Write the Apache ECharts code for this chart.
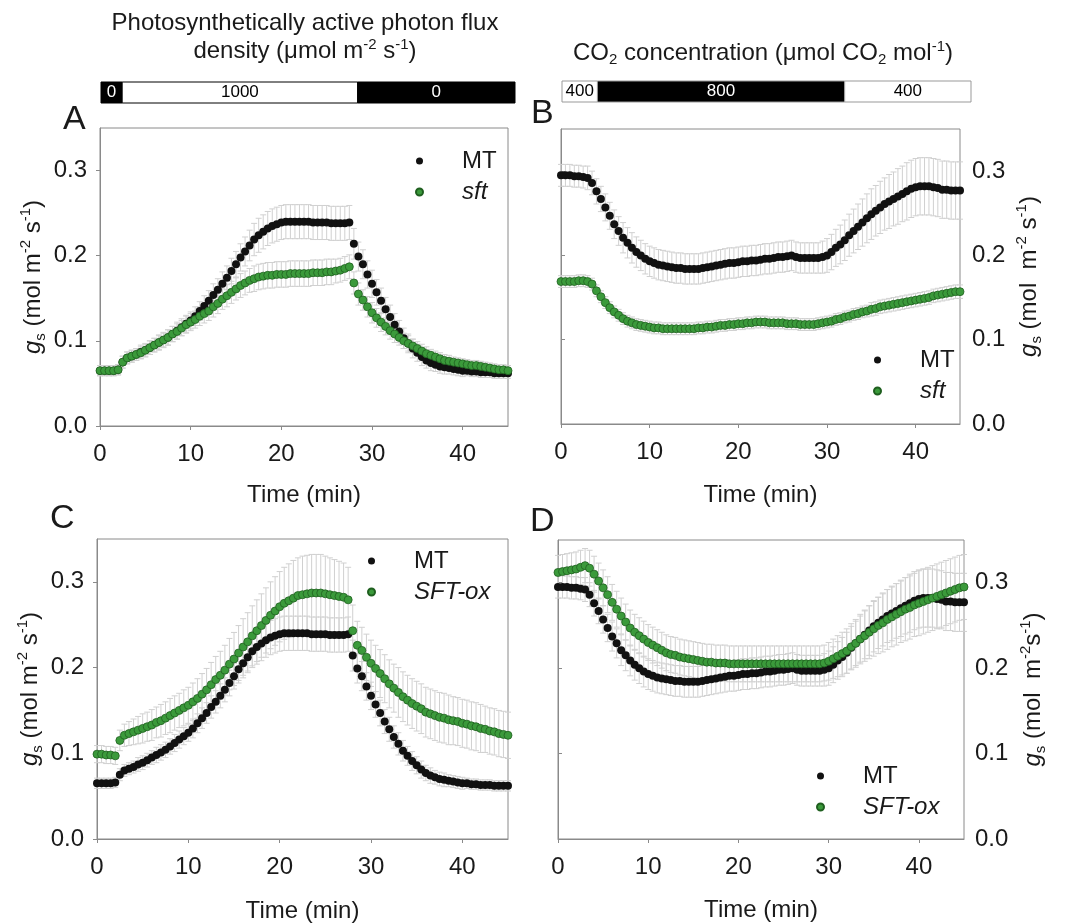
<!DOCTYPE html>
<html>
<head>
<meta charset="utf-8">
<title>gs time courses</title>
<script src="https://cdn.jsdelivr.net/npm/echarts@6/dist/echarts.min.js"></script>
<style>
  html, body { margin: 0; padding: 0; background: #fff; }
  #chart { width: 1065px; height: 924px; }
</style>
</head>
<body>
<div id="chart"></div>
<script>
// sampling times (min), one reading every 30 s
const times = [
  0, 0.5, 1, 1.5, 2, 2.5, 3, 3.5, 4, 4.5,
  5, 5.5, 6, 6.5, 7, 7.5, 8, 8.5, 9, 9.5,
  10, 10.5, 11, 11.5, 12, 12.5, 13, 13.5, 14, 14.5,
  15, 15.5, 16, 16.5, 17, 17.5, 18, 18.5, 19, 19.5,
  20, 20.5, 21, 21.5, 22, 22.5, 23, 23.5, 24, 24.5,
  25, 25.5, 26, 26.5, 27, 27.5, 28, 28.5, 29, 29.5,
  30, 30.5, 31, 31.5, 32, 32.5, 33, 33.5, 34, 34.5,
  35, 35.5, 36, 36.5, 37, 37.5, 38, 38.5, 39, 39.5,
  40, 40.5, 41, 41.5, 42, 42.5, 43, 43.5, 44, 44.5,
  45
];
const xTicks = [0, 10, 20, 30, 40];
const yTicks = [0, 0.1, 0.2, 0.3];

// light treatment bar (start, end, PPFD) and CO2 bar (start, end, ppm)
const lightSteps = [[0, 2.3, 0], [2.3, 27.9, 1000], [27.9, 45, 0]];
const co2Steps = [[0, 3.9, 400], [3.9, 31.1, 800], [31.1, 45, 400]];

// ---- light response (panels A, C) ----
const mtLight = [
  .065,.065,.065,.065,.066,.075,.080,.082,.084,.087,
  .089,.092,.095,.098,.101,.104,.108,.112,.116,.120,
  .124,.129,.135,.141,.147,.154,.160,.167,.174,.182,
  .190,.198,.205,.212,.219,.224,.228,.232,.235,.237,
  .239,.240,.240,.240,.240,.240,.240,.239,.239,.239,
  .239,.238,.238,.238,.238,.239,.214,.199,.190,.178,
  .167,.157,.147,.137,.128,.119,.111,.103,.097,.091,
  .086,.081,.077,.074,.072,.070,.069,.068,.067,.066,
  .065,.065,.064,.064,.063,.063,.063,.062,.062,.062,
  .062
];
const mtLightSe = [
  .006,.006,.006,.006,.006,.007,.007,.007,.007,.008,
  .008,.008,.008,.009,.009,.009,.009,.010,.010,.010,
  .010,.011,.011,.012,.012,.013,.013,.014,.014,.015,
  .015,.016,.017,.018,.019,.020,.020,.020,.020,.020,
  .020,.020,.020,.020,.020,.020,.020,.020,.020,.020,
  .020,.020,.020,.020,.020,.020,.018,.017,.017,.016,
  .016,.015,.015,.014,.014,.013,.013,.012,.011,.011,
  .010,.010,.009,.009,.008,.008,.008,.007,.007,.007,
  .007,.006,.006,.006,.006,.006,.006,.006,.006,.006,
  .006
];
const sftLight = [
  .065,.065,.065,.065,.066,.075,.080,.082,.084,.086,
  .089,.092,.095,.098,.101,.104,.108,.111,.115,.119,
  .122,.125,.129,.132,.135,.140,.144,.149,.153,.157,
  .161,.165,.168,.171,.173,.175,.176,.177,.177,.178,
  .178,.178,.179,.179,.179,.179,.179,.180,.180,.180,
  .181,.181,.182,.183,.185,.187,.168,.155,.148,.140,
  .133,.127,.122,.117,.112,.108,.104,.100,.097,.094,
  .091,.088,.085,.083,.081,.079,.077,.076,.075,.074,
  .073,.072,.071,.071,.070,.069,.068,.067,.066,.066,
  .065
];
const sftLightSe = [
  .006,.006,.006,.006,.006,.007,.007,.007,.007,.007,
  .007,.008,.008,.008,.008,.009,.009,.009,.009,.010,
  .010,.010,.011,.011,.011,.012,.012,.012,.013,.013,
  .013,.014,.014,.014,.015,.015,.015,.015,.015,.015,
  .015,.015,.015,.015,.015,.015,.015,.015,.015,.015,
  .015,.015,.014,.014,.014,.014,.013,.013,.012,.012,
  .012,.011,.011,.010,.010,.010,.009,.009,.009,.008,
  .008,.008,.008,.007,.007,.007,.007,.007,.006,.006,
  .006,.006,.006,.006,.006,.006,.006,.006,.006,.006,
  .006
];
const oxLight = [
  .099,.099,.098,.098,.097,.115,.121,.123,.125,.127,
  .129,.131,.133,.136,.138,.141,.144,.147,.150,.153,
  .156,.160,.164,.169,.174,.180,.186,.191,.197,.204,
  .210,.217,.224,.230,.237,.243,.249,.255,.261,.266,
  .271,.275,.278,.281,.284,.285,.286,.287,.287,.287,
  .286,.285,.284,.283,.282,.279,.243,.226,.220,.212,
  .205,.199,.193,.187,.181,.176,.171,.166,.162,.158,
  .155,.152,.148,.146,.144,.142,.141,.139,.138,.137,
  .135,.134,.132,.131,.129,.128,.126,.125,.123,.122,
  .121
];
const oxLightSe = [
  .010,.010,.010,.010,.010,.012,.013,.014,.015,.016,
  .017,.017,.018,.018,.019,.019,.020,.020,.020,.021,
  .021,.022,.023,.024,.025,.026,.027,.028,.029,.030,
  .031,.032,.033,.034,.035,.036,.037,.038,.039,.040,
  .041,.042,.043,.044,.044,.045,.045,.045,.045,.045,
  .044,.043,.042,.041,.040,.038,.030,.028,.027,.027,
  .027,.027,.028,.028,.028,.028,.029,.029,.029,.029,
  .029,.029,.029,.029,.029,.029,.029,.029,.028,.028,
  .028,.028,.028,.028,.028,.027,.027,.027,.027,.027,
  .027
];

// ---- CO2 response (panels B, D) ----
const mtCo2 = [
  .295,.295,.295,.294,.294,.293,.292,.286,.276,.267,
  .257,.247,.237,.229,.221,.215,.209,.204,.200,.196,
  .193,.191,.189,.188,.187,.186,.185,.185,.184,.184,
  .184,.184,.185,.186,.187,.188,.189,.190,.191,.191,
  .192,.193,.193,.194,.194,.195,.196,.196,.197,.198,
  .198,.199,.200,.198,.197,.197,.197,.197,.197,.198,
  .200,.204,.209,.213,.218,.224,.229,.234,.239,.244,
  .249,.253,.257,.261,.264,.267,.270,.273,.276,.279,
  .281,.282,.282,.282,.281,.280,.278,.278,.277,.277,
  .277
];
const mtCo2Se = [
  .013,.013,.013,.013,.013,.013,.014,.014,.015,.015,
  .016,.016,.017,.017,.018,.018,.018,.018,.018,.018,
  .018,.018,.018,.018,.018,.018,.018,.018,.018,.018,
  .018,.018,.018,.018,.018,.018,.018,.018,.018,.018,
  .018,.018,.018,.018,.018,.018,.018,.018,.018,.018,
  .018,.018,.018,.018,.018,.018,.018,.018,.018,.019,
  .020,.021,.022,.023,.024,.025,.026,.027,.028,.029,
  .030,.030,.031,.031,.032,.032,.033,.033,.034,.034,
  .034,.034,.034,.034,.034,.034,.034,.034,.034,.034,
  .034
];
const sftCo2 = [
  .169,.169,.169,.169,.170,.170,.169,.166,.158,.151,
  .144,.138,.133,.129,.125,.122,.120,.118,.117,.116,
  .115,.114,.114,.113,.113,.113,.113,.113,.113,.113,
  .113,.114,.114,.115,.115,.116,.117,.117,.118,.118,
  .119,.119,.120,.120,.121,.121,.121,.120,.120,.120,
  .120,.119,.119,.119,.118,.118,.118,.118,.119,.120,
  .121,.122,.124,.125,.127,.128,.130,.131,.133,.134,
  .136,.137,.139,.140,.141,.142,.143,.144,.145,.146,
  .147,.148,.149,.150,.152,.153,.154,.155,.156,.157,
  .157
];
const sftCo2Se = [
  .007,.007,.007,.007,.007,.007,.007,.007,.007,.007,
  .007,.007,.007,.007,.007,.007,.007,.007,.007,.007,
  .007,.007,.007,.007,.007,.007,.007,.007,.007,.007,
  .007,.007,.007,.007,.007,.007,.007,.007,.007,.007,
  .007,.007,.007,.007,.007,.007,.007,.007,.007,.007,
  .007,.007,.007,.007,.007,.007,.007,.007,.007,.007,
  .007,.007,.007,.007,.007,.007,.007,.007,.007,.007,
  .008,.008,.008,.008,.008,.008,.008,.008,.008,.008,
  .008,.008,.008,.008,.008,.008,.008,.008,.008,.008,
  .008
];
const oxCo2 = [
  .312,.313,.314,.315,.316,.318,.320,.317,.310,.302,
  .294,.286,.277,.269,.261,.254,.247,.242,.238,.234,
  .230,.227,.224,.221,.218,.216,.215,.213,.212,.211,
  .210,.209,.208,.207,.207,.206,.206,.206,.205,.205,
  .205,.205,.205,.205,.205,.205,.205,.205,.205,.205,
  .205,.205,.205,.205,.205,.205,.205,.205,.205,.206,
  .208,.211,.214,.217,.220,.225,.229,.234,.238,.242,
  .246,.250,.253,.257,.260,.263,.266,.269,.271,.274,
  .276,.278,.280,.282,.284,.286,.288,.290,.292,.294,
  .295
];
const oxCo2Se = [
  .020,.020,.020,.020,.020,.020,.020,.021,.021,.021,
  .021,.021,.021,.021,.021,.021,.021,.021,.021,.021,
  .021,.021,.021,.021,.021,.021,.021,.021,.021,.021,
  .021,.021,.021,.021,.021,.021,.021,.021,.021,.021,
  .021,.021,.021,.021,.021,.021,.021,.021,.021,.021,
  .021,.021,.021,.021,.021,.021,.021,.021,.021,.021,
  .022,.023,.024,.025,.026,.027,.028,.029,.030,.031,
  .032,.033,.034,.035,.035,.036,.036,.037,.037,.037,
  .038,.038,.038,.038,.038,.038,.038,.038,.038,.038,
  .038
];

const FONT = "'Liberation Sans', Arial, sans-serif";
const TEXT = '#1a1a1a';
const AXIS = '#8a8a8a';
const ERR = '#d0d0d0';
const GREEN = '#3b9a3b';

const chart = echarts.init(document.getElementById('chart'));

function pairs(vals, se) {
  return times.map((t, i) => se ? [t, vals[i], se[i]] : [t, vals[i]]);
}

// vertical error bar with small caps
function errRender(params, api) {
  const x = api.value(0), y = api.value(1), e = api.value(2);
  const hi = api.coord([x, y + e]);
  const lo = api.coord([x, y - e]);
  const w = 3;
  const st = { stroke: ERR, lineWidth: 1 };
  return {
    type: 'group',
    children: [
      { type: 'line', shape: { x1: hi[0], y1: hi[1], x2: lo[0], y2: lo[1] }, style: st },
      { type: 'line', shape: { x1: hi[0] - w, y1: hi[1], x2: hi[0] + w, y2: hi[1] }, style: st },
      { type: 'line', shape: { x1: lo[0] - w, y1: lo[1], x2: lo[0] + w, y2: lo[1] }, style: st }
    ]
  };
}

// treatment bar segments above panels A and B
function stepRender(isDark, border) {
  return function (params, api) {
    const a = api.coord([api.value(0), 1]);
    const b = api.coord([api.value(1), 0]);
    const dark = isDark(api.value(2));
    return {
      type: 'group',
      children: [
        { type: 'rect', shape: { x: a[0], y: a[1], width: b[0] - a[0], height: b[1] - a[1] },
          style: { fill: dark ? '#000' : '#fff', stroke: border, lineWidth: 1 } },
        { type: 'text', style: { text: String(api.value(2)), x: (a[0] + b[0]) / 2, y: (a[1] + b[1]) / 2,
          align: 'center', verticalAlign: 'middle', fill: dark ? '#fff' : '#000',
          fontSize: 17, fontFamily: FONT } }
      ]
    };
  };
}

const nameRich = {
  gi: { fontStyle: 'italic', fontSize: 24, fontFamily: FONT, color: TEXT, lineHeight: 30 },
  sub: { fontSize: 15, fontFamily: FONT, color: TEXT, verticalAlign: 'bottom', lineHeight: 20 },
  sup: { fontSize: 15, fontFamily: FONT, color: TEXT, verticalAlign: 'top', lineHeight: 18 }
};

function xAxisFor(i, gap) {
  return {
    gridIndex: i, type: 'value', min: 0, max: 45,
    axisLine: { show: true, lineStyle: { color: AXIS } },
    axisTick: { show: true, length: 4, customValues: xTicks, lineStyle: { color: AXIS } },
    axisLabel: { customValues: xTicks, margin: 16, fontSize: 24, color: TEXT, fontFamily: FONT },
    splitLine: { show: false },
    name: 'Time (min)', nameLocation: 'middle', nameGap: gap,
    nameTextStyle: { fontSize: 24, color: TEXT, fontFamily: FONT }
  };
}

function yAxisFor(i, side, name, margin, gap) {
  return {
    gridIndex: i, type: 'value', min: 0, max: 0.35, position: side,
    axisLine: { show: true, lineStyle: { color: AXIS } },
    axisTick: { show: true, length: 4, customValues: yTicks, lineStyle: { color: AXIS } },
    axisLabel: { customValues: yTicks, margin: margin, fontSize: 24, color: TEXT, fontFamily: FONT,
      formatter: v => v.toFixed(1) },
    splitLine: { show: false },
    name: name, nameLocation: 'middle', nameGap: gap,
    nameTextStyle: { fontSize: 24, color: TEXT, fontFamily: FONT, lineHeight: 30, rich: nameRich }
  };
}

function legendFor(left, top, names) {
  return {
    left: left, top: top, orient: 'vertical', icon: 'circle', padding: 0,
    itemWidth: 7, itemHeight: 7, itemGap: 7,
    data: names,
    formatter: n => n === 'MT' ? n : '{i|' + n + '}',
    textStyle: { fontSize: 24, color: TEXT, fontFamily: FONT, padding: [0, 0, 0, 34],
      rich: { i: { fontStyle: 'italic', fontSize: 24, color: TEXT, fontFamily: FONT } } }
  };
}

const panels = [
  { mt: mtLight, mtSe: mtLightSe, other: sftLight, otherSe: sftLightSe, name: 'sft' },
  { mt: mtCo2, mtSe: mtCo2Se, other: sftCo2, otherSe: sftCo2Se, name: 'sft' },
  { mt: mtLight, mtSe: mtLightSe, other: oxLight, otherSe: oxLightSe, name: 'SFT-ox' },
  { mt: mtCo2, mtSe: mtCo2Se, other: oxCo2, otherSe: oxCo2Se, name: 'SFT-ox' }
];

const series = [];
panels.forEach((p, i) => {
  series.push({ type: 'custom', name: 'err-mt-' + i, xAxisIndex: i, yAxisIndex: i, silent: true, z: 1,
    renderItem: errRender, encode: { x: 0, y: 1 }, data: pairs(p.mt, p.mtSe) });
  series.push({ type: 'custom', name: 'err-' + p.name + '-' + i, xAxisIndex: i, yAxisIndex: i, silent: true, z: 1,
    renderItem: errRender, encode: { x: 0, y: 1 }, data: pairs(p.other, p.otherSe) });
});
panels.forEach((p, i) => {
  series.push({ type: 'scatter', name: 'MT', xAxisIndex: i, yAxisIndex: i, z: 3,
    symbolSize: 8, itemStyle: { color: '#111', opacity: 1 }, data: pairs(p.mt) });
  series.push({ type: 'scatter', name: p.name, xAxisIndex: i, yAxisIndex: i, z: 4,
    symbolSize: 8, itemStyle: { color: GREEN, borderColor: '#1f5f1f', borderWidth: 0.8, opacity: 1 },
    data: pairs(p.other) });
});
series.push({ type: 'custom', xAxisIndex: 4, yAxisIndex: 4, silent: true,
  renderItem: stepRender(v => v === 0, '#000'), encode: { x: [0, 1] }, data: lightSteps });
series.push({ type: 'custom', xAxisIndex: 5, yAxisIndex: 5, silent: true,
  renderItem: stepRender(v => v > 400, '#999'), encode: { x: [0, 1] }, data: co2Steps });

const frame = { show: true, borderColor: AXIS, borderWidth: 1, backgroundColor: 'transparent' };
const hiddenX = { type: 'value', min: 0, max: 45, show: false };
const hiddenY = { type: 'value', min: 0, max: 1, show: false };

const option = {
  animation: false,
  backgroundColor: '#fff',
  grid: [
    Object.assign({ left: 100, top: 128, width: 408, height: 298 }, frame),
    Object.assign({ left: 561, top: 129, width: 399, height: 295 }, frame),
    Object.assign({ left: 97, top: 539, width: 411, height: 300 }, frame),
    Object.assign({ left: 558, top: 540, width: 406, height: 299 }, frame),
    { left: 101, top: 82, width: 414, height: 21 },
    { left: 562, top: 81, width: 409, height: 21 }
  ],
  xAxis: [
    xAxisFor(0, 57), xAxisFor(1, 59), xAxisFor(2, 60), xAxisFor(3, 59),
    Object.assign({ gridIndex: 4 }, hiddenX), Object.assign({ gridIndex: 5 }, hiddenX)
  ],
  yAxis: [
    yAxisFor(0, 'left', '{gi|g}{sub|s} (mol m{sup|-2} s{sup|-1})', 13, 52),
    yAxisFor(1, 'right', '{gi|g}{sub|s} (mol  m{sup|-2} s{sup|-1})', 12, 54),
    yAxisFor(2, 'left', '{gi|g}{sub|s} (mol m{sup|-2} s{sup|-1})', 13, 52),
    yAxisFor(3, 'right', '{gi|g}{sub|s} (mol  m{sup|-2}s{sup|-1})', 11, 54),
    Object.assign({ gridIndex: 4 }, hiddenY), Object.assign({ gridIndex: 5 }, hiddenY)
  ],
  legend: [
    legendFor(415, 149, ['MT', 'sft']),
    legendFor(873, 348, ['MT', 'sft']),
    legendFor(367, 549, ['MT', 'SFT-ox']),
    legendFor(816, 764, ['MT', 'SFT-ox'])
  ],
  graphic: [
    { type: 'text', x: 305, y: 9, style: {
        text: 'Photosynthetically active photon flux\ndensity (μmol m{sup|-2} s{sup|-1})',
        align: 'center', verticalAlign: 'top', fontSize: 24, fontFamily: FONT, fill: TEXT, lineHeight: 28,
        rich: { sup: { fontSize: 15, fontFamily: FONT, fill: TEXT, verticalAlign: 'top', lineHeight: 18 } } } },
    { type: 'text', x: 763, y: 39, style: {
        text: 'CO{sub|2} concentration (μmol CO{sub|2} mol{sup|-1})',
        align: 'center', verticalAlign: 'top', fontSize: 24, fontFamily: FONT, fill: TEXT, lineHeight: 28,
        rich: {
          sup: { fontSize: 15, fontFamily: FONT, fill: TEXT, verticalAlign: 'top', lineHeight: 18 },
          sub: { fontSize: 15, fontFamily: FONT, fill: TEXT, verticalAlign: 'bottom', lineHeight: 20 } } } },
    { type: 'text', x: 63, y: 103, style: { text: 'A', fontSize: 34, fontFamily: FONT, fill: TEXT } },
    { type: 'text', x: 531, y: 97, style: { text: 'B', fontSize: 34, fontFamily: FONT, fill: TEXT } },
    { type: 'text', x: 50, y: 502, style: { text: 'C', fontSize: 34, fontFamily: FONT, fill: TEXT } },
    { type: 'text', x: 530, y: 505, style: { text: 'D', fontSize: 34, fontFamily: FONT, fill: TEXT } }
  ],
  series: series
};

chart.setOption(option);
</script>
</body>
</html>
